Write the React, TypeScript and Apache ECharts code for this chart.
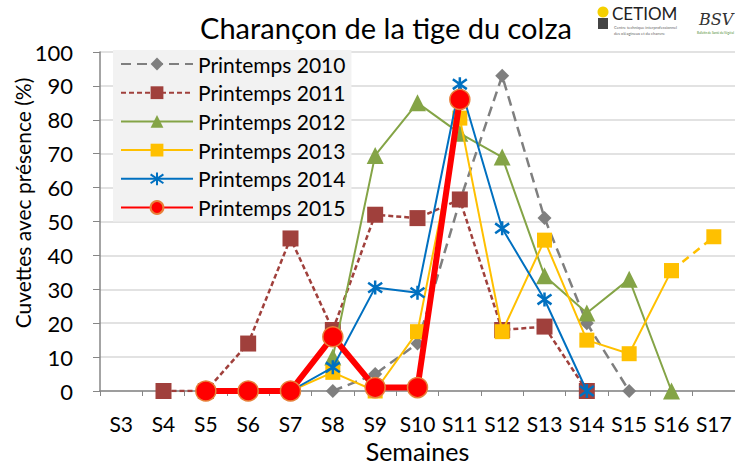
import React, { useEffect, useRef } from "react";
import * as echarts from "echarts";

const weeks = ["S3","S4","S5","S6","S7","S8","S9","S10","S11","S12","S13","S14","S15","S16","S17"];
const yTicks = [0, 10, 20, 30, 40, 50, 60, 70, 80, 90, 100];
const p2010 = [null,null,null,null,null,0,5,14,56,93,51,20,0,null,null];
const p2011 = [null,0,0,14,45,18,52,51,56.5,18,19,0,null,null,null];
const p2012 = [null,null,null,null,null,10,69.5,85,76,69,34,23,33,0,null];
const p2013 = [null,null,null,null,0,5.5,0,17.5,80.5,17.5,44.5,15,11,35.5,null];
const p2013ext = [null,null,null,null,null,null,null,null,null,null,null,null,null,35.5,45.5];
const p2014 = [null,null,null,null,0,7,30.5,29,90.5,48,27,0,null,null,null];
const p2015 = [null,null,0,0,0,16,1,1,86,null,null,null,null,null,null];

const FONT = "Lato";
const star = "path://M0,-10L0,10M-7,-7L7,7M-7,7L7,-7";

export default function App() {
  const ref = useRef<HTMLDivElement>(null);
  useEffect(() => {
    const chart = echarts.init(ref.current!, null, { renderer: "svg" });
    chart.setOption({
      animation: false,
      backgroundColor: "#ffffff",
      textStyle: { fontFamily: FONT },
      title: {
        text: "Charançon de la tige du colza",
        left: 381,
        textAlign: "center",
        top: 8,
        textStyle: { fontFamily: FONT, fontSize: 29, fontWeight: "normal", color: "#000" },
      },
      graphic: [
        { type: "circle", shape: { cx: 603, cy: 12, r: 5.5 }, style: { fill: "#f5d000" } },
        { type: "rect", shape: { x: 598, y: 18, width: 10, height: 11 }, style: { fill: "#444" } },
        { type: "text", x: 612, y: 5, style: { text: "CETIOM", font: "17px Lato", fill: "#222" } },
        { type: "text", x: 614, y: 25, style: { text: "Centre technique interprofessionnel", font: "4px Lato", fill: "#666" } },
        { type: "text", x: 614, y: 31, style: { text: "des oléagineux et du chanvre", font: "4px Lato", fill: "#666" } },
        { type: "text", x: 699, y: 11, style: { text: "BSV", font: "italic 16px 'DejaVu Serif'", fill: "#333" } },
        { type: "text", x: 697, y: 31, style: { text: "Bulletin de Santé du Végétal", font: "3px Lato", fill: "#4a8a2a" } },
        {
          type: "text", x: 22, y: 203, rotation: Math.PI / 2,
          style: { text: "Cuvettes avec présence (%)", font: "21px Lato", fill: "#000", textAlign: "center", textVerticalAlign: "middle" },
        },
      ],
      legend: {
        orient: "vertical",
        left: 113,
        top: 50,
        backgroundColor: "#f2f2f2",
        padding: [3, 6, 3, 7],
        itemWidth: 72,
        itemHeight: 16,
        itemGap: 6.7,
        textStyle: { fontFamily: FONT, fontSize: 21, color: "#000", lineHeight: 22 },
        data: ["Printemps 2010","Printemps 2011","Printemps 2012","Printemps 2013","Printemps 2014","Printemps 2015"],
      },
      grid: { left: 100, right: 0, top: 52, bottom: 75, outerBoundsMode: "none", containLabel: false },
      xAxis: {
        type: "category",
        data: weeks,
        boundaryGap: true,
        name: "Semaines",
        nameLocation: "middle",
        nameGap: 46,
        nameTextStyle: { fontFamily: FONT, fontSize: 25, color: "#000" },
        axisLine: { lineStyle: { color: "#868686", width: 1.5 } },
        axisTick: { show: true, length: 5, interval: 0, lineStyle: { color: "#868686" } },
        axisLabel: { fontFamily: FONT, fontSize: 21, color: "#000", margin: 22, interval: 0 },
      },
      yAxis: {
        type: "value",
        min: 0,
        max: 100,
        interval: 10,
        axisLine: { show: true, lineStyle: { color: "#868686", width: 1.5 } },
        axisTick: { show: true, length: 7, lineStyle: { color: "#868686" } },
        axisLabel: { fontFamily: FONT, fontSize: 22, color: "#000", margin: 27, formatter: (v: number) => (yTicks.includes(v) ? String(v) : "") },
        splitLine: { lineStyle: { color: "#d9d9d9", width: 1.5 } },
      },
      series: [
        {
          name: "Printemps 2010", type: "line", data: p2010, z: 2,
          symbol: "diamond", symbolSize: 14,
          itemStyle: { color: "#7f7f7f" },
          lineStyle: { color: "#7f7f7f", width: 2.5, type: [10, 6] },
        },
        {
          name: "Printemps 2011", type: "line", data: p2011, z: 3,
          symbol: "rect", symbolSize: 16,
          itemStyle: { color: "#a0403c" },
          lineStyle: { color: "#a0403c", width: 2.5, type: [5, 3] },
        },
        {
          name: "Printemps 2012", type: "line", data: p2012, z: 4,
          symbol: "triangle", symbolSize: 17,
          itemStyle: { color: "#84a446" },
          lineStyle: { color: "#84a446", width: 2 },
        },
        {
          name: "Printemps 2013 ", type: "line", data: p2013ext, z: 5,
          symbol: "rect", symbolSize: 15,
          itemStyle: { color: "#ffc000" },
          lineStyle: { color: "#ffc000", width: 2.5, type: [8, 6] },
        },
        {
          name: "Printemps 2013", type: "line", data: p2013, z: 5,
          symbol: "rect", symbolSize: 15,
          itemStyle: { color: "#ffc000" },
          lineStyle: { color: "#ffc000", width: 2 },
        },
        {
          name: "Printemps 2014", type: "line", data: p2014, z: 6,
          symbol: star, symbolSize: 14,
          itemStyle: { color: "#0070c0", borderColor: "#0070c0", borderWidth: 2.5 },
          lineStyle: { color: "#0070c0", width: 2 },
        },
        {
          name: "Printemps 2015", type: "line", data: p2015, z: 7,
          symbol: "circle", symbolSize: 20,
          itemStyle: { color: "#ff0000", borderColor: "#e8813a", borderWidth: 1.5 },
          lineStyle: { color: "#ff0000", width: 6 },
        },
      ],
    });
    return () => chart.dispose();
  }, []);
  return <div ref={ref} style={{ width: 735, height: 466, position: "absolute", left: 0, top: 0 }} />;
}
